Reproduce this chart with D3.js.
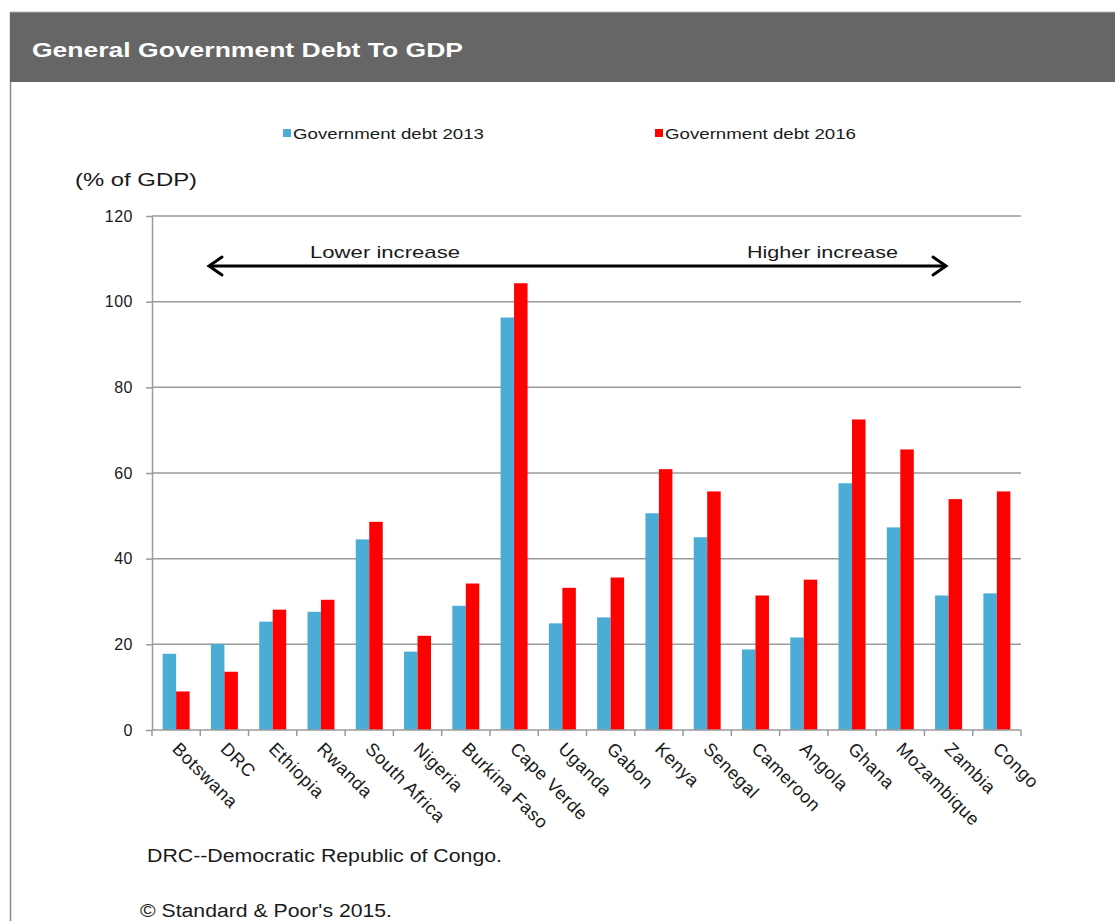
<!DOCTYPE html>
<html>
<head>
<meta charset="utf-8">
<script src="https://cdn.jsdelivr.net/npm/d3@7"></script>
<style>
  body { margin: 0; background: #fff; }
  text { font-family: 'Liberation Sans', Arial, sans-serif; }
</style>
</head>
<body>
<div id="chart"></div>
<script>
// data
const countries = ['Botswana', 'DRC', 'Ethiopia', 'Rwanda', 'South Africa', 'Nigeria', 'Burkina Faso',
  'Cape Verde', 'Uganda', 'Gabon', 'Kenya', 'Senegal', 'Cameroon', 'Angola', 'Ghana', 'Mozambique',
  'Zambia', 'Congo'];
const debt2013 = [17.8, 20.1, 25.3, 27.6, 44.5, 18.3, 29.0, 96.3, 24.9, 26.3, 50.6, 45.0, 18.8, 21.6, 57.6, 47.3, 31.4, 31.9];
const debt2016 = [9.0, 13.6, 28.1, 30.4, 48.6, 22.0, 34.2, 104.3, 33.2, 35.6, 60.9, 55.7, 31.4, 35.1, 72.5, 65.5, 53.9, 55.7];
const seriesNames = ['Government debt 2013', 'Government debt 2016'];
const yTicks = [0, 20, 40, 60, 80, 100, 120];

const width = 1115;
const height = 921;
const margin = {top: 216, right: 94, bottom: 191, left: 152};
const innerWidth = width - margin.left - margin.right;
const innerHeight = height - margin.top - margin.bottom;

const blue = '#4BACD6';
const red = '#FF0000';
const gridColor = '#9a9a9a';
const fontColor = '#1a1a1a';

const xScale = d3.scaleBand()
  .domain(countries)
  .range([0, innerWidth])
  .padding(0);

const xInner = d3.scaleBand()
  .domain(seriesNames)
  .range([0, xScale.bandwidth()])
  .paddingInner(0)
  .paddingOuter(0.79);

const yScale = d3.scaleLinear()
  .domain([0, 120])
  .range([innerHeight, 0]);

const color = d3.scaleOrdinal().domain(seriesNames).range([blue, red]);

const svg = d3.select('#chart')
  .append('svg')
  .attr('width', width)
  .attr('height', height);

// frame + header
svg.append('rect')
  .attr('x', 10.5).attr('y', 12.5)
  .attr('width', width).attr('height', height)
  .attr('fill', '#fff')
  .attr('stroke', '#8a8a8a')
  .attr('stroke-width', 1.5);

svg.append('rect')
  .attr('x', 10).attr('y', 13)
  .attr('width', width).attr('height', 69)
  .attr('fill', '#666666');

svg.append('text')
  .attr('x', 32).attr('y', 57)
  .attr('fill', '#fff')
  .style('font-weight', 'bold')
  .style('font-size', '21px')
  .attr('textLength', 431)
  .attr('lengthAdjust', 'spacingAndGlyphs')
  .text('General Government Debt To GDP');

// legend
const legendX = [283, 655];
seriesNames.forEach((name, i) => {
  svg.append('rect')
    .attr('x', legendX[i]).attr('y', 129)
    .attr('width', 8).attr('height', 8)
    .attr('fill', color(name));
  svg.append('text')
    .attr('x', legendX[i] + 10).attr('y', 139)
    .attr('fill', fontColor)
    .style('font-size', '15px')
    .attr('textLength', 191)
    .attr('lengthAdjust', 'spacingAndGlyphs')
    .text(name);
});

svg.append('text')
  .attr('x', 75).attr('y', 186)
  .attr('fill', fontColor)
  .style('font-size', '18px')
  .attr('textLength', 122)
  .attr('lengthAdjust', 'spacingAndGlyphs')
  .text('(% of GDP)');

const g = svg.append('g')
  .attr('transform', `translate(${margin.left},${margin.top})`);

// gridlines
g.append('g')
  .selectAll('line')
  .data(yTicks.filter(d => d > 0))
  .join('line')
  .attr('x1', 0).attr('x2', innerWidth)
  .attr('y1', d => yScale(d)).attr('y2', d => yScale(d))
  .attr('stroke', gridColor)
  .attr('stroke-width', 1.5);

// y axis
g.append('g')
  .call(d3.axisLeft(yScale).tickValues(yTicks).tickSize(6).tickSizeOuter(0).tickPadding(13))
  .call(a => a.select('.domain').attr('stroke', gridColor).attr('stroke-width', 1.5))
  .call(a => a.selectAll('.tick line').attr('stroke', gridColor).attr('stroke-width', 1.5))
  .call(a => a.selectAll('.tick text')
    .attr('fill', fontColor)
    .style('font-size', '16px')
    .style('letter-spacing', '0.5px')
    .style('font-family', "'Liberation Sans', Arial, sans-serif"));

// bars
const groups = g.append('g')
  .selectAll('g')
  .data(countries.map((c, i) => ({country: c, values: [debt2013[i], debt2016[i]]})))
  .join('g')
  .attr('transform', d => `translate(${xScale(d.country)},0)`);

groups.selectAll('rect')
  .data(d => d.values.map((v, j) => ({series: seriesNames[j], value: v})))
  .join('rect')
  .attr('x', d => xInner(d.series))
  .attr('width', xInner.bandwidth())
  .attr('y', d => yScale(d.value))
  .attr('height', d => innerHeight - yScale(d.value))
  .attr('fill', d => color(d.series));

// x axis with ticks at band edges
const xAxis = g.append('g')
  .attr('transform', `translate(0,${innerHeight})`);

xAxis.append('line')
  .attr('x1', 0).attr('x2', innerWidth)
  .attr('stroke', gridColor)
  .attr('stroke-width', 1.5);

xAxis.selectAll('.edge')
  .data(countries.concat(['end']))
  .join('line')
  .attr('class', 'edge')
  .attr('x1', (d, i) => i * xScale.step())
  .attr('x2', (d, i) => i * xScale.step())
  .attr('y1', 0).attr('y2', 6)
  .attr('stroke', gridColor)
  .attr('stroke-width', 1.5);

xAxis.selectAll('.label')
  .data(countries)
  .join('text')
  .attr('class', 'label')
  .attr('transform', d => `translate(${xScale(d) + xScale.bandwidth() / 2 - 5},${20}) rotate(45)`)
  .attr('fill', fontColor)
  .style('font-size', '18px')
  .style('letter-spacing', '0.6px')
  .text(d => d);

// arrow annotation
const arrowY = 266;
const arrow = svg.append('g')
  .attr('stroke', '#000')
  .attr('stroke-width', 3)
  .attr('fill', 'none')
  .attr('stroke-linecap', 'round');
arrow.append('line').attr('x1', 210).attr('x2', 945).attr('y1', arrowY).attr('y2', arrowY);
arrow.append('path').attr('d', `M${222},${arrowY - 9} L${209},${arrowY} L${222},${arrowY + 9}`);
arrow.append('path').attr('d', `M${933},${arrowY - 9} L${946},${arrowY} L${933},${arrowY + 9}`);

svg.append('text')
  .attr('x', 310).attr('y', 258)
  .attr('fill', fontColor)
  .style('font-size', '17px')
  .attr('textLength', 150)
  .attr('lengthAdjust', 'spacingAndGlyphs')
  .text('Lower increase');

svg.append('text')
  .attr('x', 747).attr('y', 258)
  .attr('fill', fontColor)
  .style('font-size', '17px')
  .attr('textLength', 151)
  .attr('lengthAdjust', 'spacingAndGlyphs')
  .text('Higher increase');

// notes
svg.append('text')
  .attr('x', 147).attr('y', 862)
  .attr('fill', fontColor)
  .style('font-size', '18px')
  .attr('textLength', 355)
  .attr('lengthAdjust', 'spacingAndGlyphs')
  .text('DRC--Democratic Republic of Congo.');

svg.append('text')
  .attr('x', 140).attr('y', 917)
  .attr('fill', fontColor)
  .style('font-size', '18px')
  .attr('textLength', 252)
  .attr('lengthAdjust', 'spacingAndGlyphs')
  .text('\u00A9 Standard & Poor\'s 2015.');
</script>
</body>
</html>
